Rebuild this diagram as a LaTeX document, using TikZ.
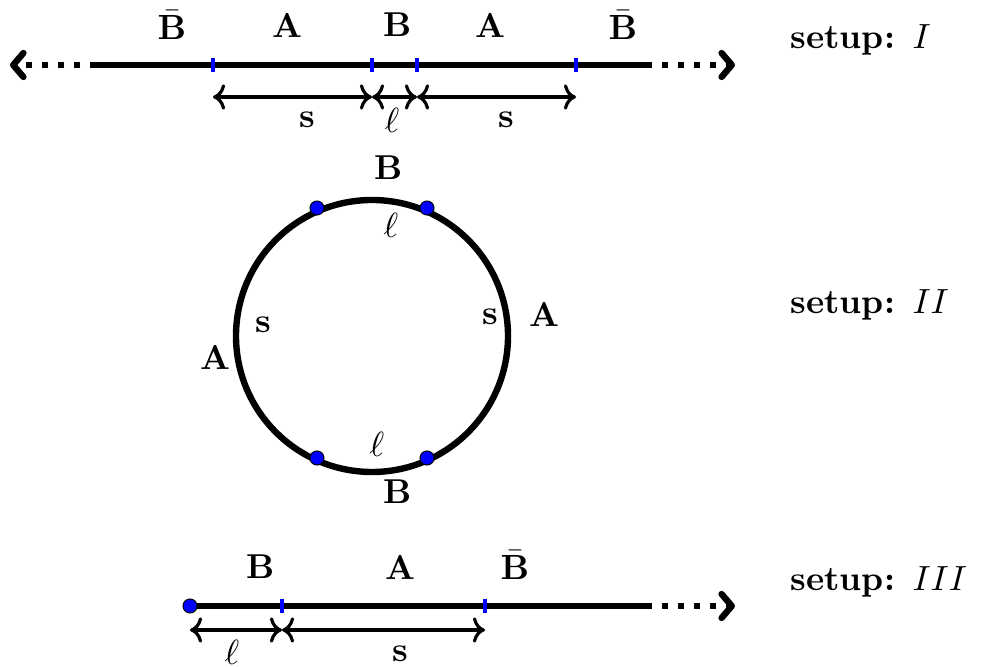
\documentclass[tikz,border=0pt]{standalone}
\usetikzlibrary{arrows.meta, positioning, calc}

\begin{document}
\begin{tikzpicture}[
  x=0.011cm, y=-0.011cm,
  >=To,
  font=\fontsize{10.8}{13}\selectfont,
  road/.style={line width=2pt},
  tail/.style={line width=2pt, dash pattern=on 1.9pt off 3.1pt},
  tip/.style={-{Straight Barb[length=3.2pt, width=7.5pt, line cap=round, line join=round]}},
  tick/.style={blue, line width=1pt},
  dim/.style={<->, line width=1pt},
  lab/.style={font=\fontsize{10.8}{13}\selectfont\bfseries, inner sep=1pt},
  setlab/.style={anchor=west, font=\fontsize{10.8}{13}\selectfont\bfseries, inner sep=0pt},
  pin/.style={circle, fill=blue, draw=black, line width=0.3pt, inner sep=0pt, minimum size=4.4pt}
]
\useasboundingbox (0,0) rectangle (984,667);

% Setup I: infinite line
\coordinate (i_lb) at (10,65);
\coordinate (i_la) at (96,65);
\coordinate (i_ra) at (646,65);
\coordinate (i_rb) at (735,65);
\coordinate (i_t1) at (213,65);
\coordinate (i_t2) at (372,65);
\coordinate (i_t3) at (417,65);
\coordinate (i_t4) at (576,65);

\draw[road] (i_la) -- (i_ra);
\draw[tail, tip] (i_la) -- (i_lb);
\draw[tail, tip] (i_ra) -- (i_rb);
\foreach \t in {i_t1, i_t2, i_t3, i_t4} {
    \draw[tick] ($(\t)+(0,-7)$) -- ($(\t)+(0,7)$);
}

\node[lab] (i_bl) at (172,25) {$\bar{\mathbf{B}}$};
\node[lab] (i_al) at (287,25) {A};
\node[lab] (i_b) at (398,25) {B};
\node[lab] (i_ar) at (490,25) {A};
\node[lab] (i_br) at (623,25) {$\bar{\mathbf{B}}$};

\coordinate (i_d1) at (213,97);
\coordinate (i_d2) at (372,97);
\coordinate (i_d3) at (417,97);
\coordinate (i_d4) at (576,97);
\foreach \i/\j in {i_d1/i_d2, i_d2/i_d3, i_d3/i_d4} {
    \draw[dim] (\i) -- (\j);
}
\node[lab] (i_s1) at (307,120) {s};
\node[inner sep=1pt] (i_l) at (392,120) {$\ell$};
\node[lab] (i_s2) at (506,120) {s};

\node[setlab] (set1) at (790,40) {setup: \normalfont$I$};

% Setup II: ring
\coordinate (c) at (372,336);
\draw[road] (c) circle[radius=136];
\node[pin] (p1) at (317,208) {};
\node[pin] (p2) at (427,208) {};
\node[pin] (p3) at (317,458) {};
\node[pin] (p4) at (427,458) {};

\node[lab] (ii_bt) at (389,168) {B};
\node[inner sep=1pt] (ii_lt) at (391,225) {$\ell$};
\node[lab] (ii_sl) at (263,325) {s};
\node[lab] (ii_al) at (215,357) {A};
\node[lab] (ii_sr) at (490,317) {s};
\node[lab] (ii_ar) at (544,314) {A};
\node[inner sep=1pt] (ii_lb) at (377,444) {$\ell$};
\node[lab] (ii_bb) at (398,492) {B};

\node[setlab] (set2) at (790,305) {setup: \normalfont$II$};

% Setup III: half line
\coordinate (iii_a) at (190,606);
\coordinate (iii_ra) at (646,606);
\coordinate (iii_rb) at (735,606);
\coordinate (iii_t1) at (282,606);
\coordinate (iii_t2) at (485,606);

\draw[road] (iii_a) -- (iii_ra);
\draw[tail, tip] (iii_ra) -- (iii_rb);
\foreach \t in {iii_t1, iii_t2} {
    \draw[tick] ($(\t)+(0,-7)$) -- ($(\t)+(0,7)$);
}
\node[pin] (p5) at (iii_a) {};

\node[lab] (iii_b) at (261,567) {B};
\node[lab] (iii_a_l) at (400,567) {A};
\node[lab] (iii_bb) at (515,565) {$\bar{\mathbf{B}}$};

\coordinate (iii_d1) at (190,630);
\coordinate (iii_d2) at (282,630);
\coordinate (iii_d3) at (485,630);
\draw[dim] (iii_d1) -- (iii_d2);
\draw[dim] (iii_d2) -- (iii_d3);
\node[inner sep=1pt] (iii_l) at (232,652) {$\ell$};
\node[lab] (iii_s) at (400,654) {s};

\node[setlab] (set3) at (790,582) {setup: \normalfont$III$};

\end{tikzpicture}
\end{document}
